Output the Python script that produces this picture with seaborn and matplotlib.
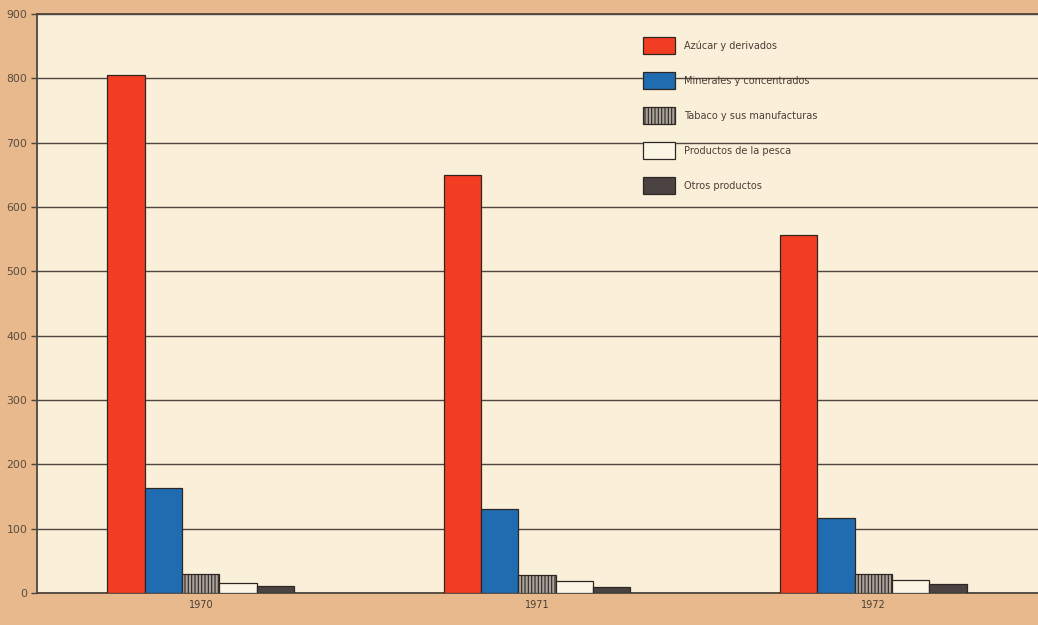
import matplotlib
matplotlib.use("Agg")
import matplotlib.pyplot as plt
import seaborn as sns
import pandas as pd

# ---- data ----
years = ["1970", "1971", "1972"]
products = ["Azúcar y derivados", "Minerales y concentrados", "Tabaco y sus manufacturas",
            "Productos de la pesca", "Otros productos"]
azucar = [805, 650, 557]
minerales = [163, 130, 117]
tabaco = [29, 28, 30]
pesca = [15, 18, 20]
otros = [11, 9, 14]
y_ticks = [0, 100, 200, 300, 400, 500, 600, 700, 800, 900]

series = [azucar, minerales, tabaco, pesca, otros]
rows = []
for prod, vals in zip(products, series):
    for yr, v in zip(years, vals):
        rows.append({"Año": yr, "Producto": prod, "Valor": v})
df = pd.DataFrame(rows)

colors = ["#f23d22", "#1f6cb0", "#a9a39b", "#fbf5e6", "#4b4341"]

sns.set_style("white")
plt.rcParams["font.family"] = ["DejaVu Sans"]
plt.rcParams["hatch.color"] = "#3a3430"
plt.rcParams["hatch.linewidth"] = 0.8

fig = plt.figure(figsize=(10.38, 6.25), dpi=100, facecolor="#e7b98c")
ax = fig.add_axes([37/1038, 32/625, 1.0 - 37/1038 + 0.01, 579/625])
ax.set_facecolor("#faf0da")

sns.barplot(data=df, x="Año", y="Valor", hue="Producto", hue_order=products,
            palette=colors, width=0.555, ax=ax, edgecolor="#2e2622",
            linewidth=0.9, saturation=1, legend=False, zorder=3)

for i, cont in enumerate(ax.containers):
    for p in cont.patches:
        if i == 2:
            p.set_hatch("|||||")
        p.set_zorder(3)

ax.set_ylim(0, 900)
ax.set_xlim(-0.487, 2.52)
ax.set_yticks(y_ticks)
ax.set_yticklabels([str(t) for t in y_ticks])
ax.yaxis.grid(True, color="#4e453e", linewidth=1.0, zorder=1)
ax.set_axisbelow(True)
ax.tick_params(axis="y", length=4, width=1, color="#4e453e", labelsize=7.8,
               labelcolor="#5a4a3e", pad=3, left=True)
ax.tick_params(axis="x", length=0, labelsize=7, labelcolor="#4a3e36", pad=5)
ax.set_xlabel("")
ax.set_ylabel("")
for s in ["left", "top", "bottom"]:
    ax.spines[s].set_visible(True)
    ax.spines[s].set_color("#4e453e")
    ax.spines[s].set_linewidth(1.3)
ax.spines["right"].set_visible(False)

handles = list(ax.containers)
leg = ax.legend(handles, products, loc="upper left", bbox_to_anchor=(0.5995, 0.96),
                frameon=False, fontsize=7, handlelength=3.3, handleheight=2.31,
                labelspacing=1.86, handletextpad=0.9, borderpad=0, borderaxespad=0)
for t in leg.get_texts():
    t.set_color("#4a3e36")

fig.savefig("out.png", dpi=100, facecolor=fig.get_facecolor())
